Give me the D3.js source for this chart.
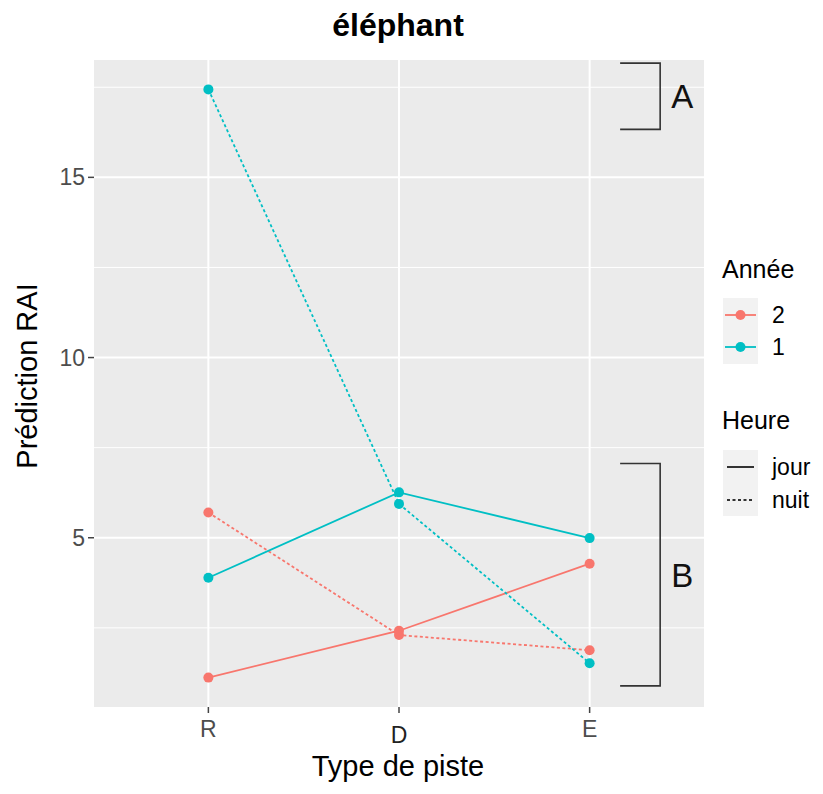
<!DOCTYPE html>
<html>
<head>
<meta charset="utf-8">
<script src="https://cdn.jsdelivr.net/npm/d3@7"></script>
<style>
  body { margin: 0; background: #fff; }
  text { font-family: "Liberation Sans", Arial, sans-serif; }
</style>
</head>
<body>
<script>
// DATA
const TYPES = ['R', 'D', 'E'];
const YEARS = ['2', '1'];
const HOURS = ['jour', 'nuit'];
const Y_TICKS = [5, 10, 15];
const Y_MINOR = [2.5, 7.5, 12.5, 17.5];
// predicted RAI per piste type (R, D, E)
const year2_jour = [1.12, 2.42, 4.28];
const year2_nuit = [5.70, 2.30, 1.88];
const year1_jour = [3.89, 6.26, 4.99];
const year1_nuit = [17.44, 5.94, 1.52];
// letter groups drawn at the right of the panel (value ranges)
const GROUP_LABELS = ['A', 'B'];
const GROUP_RANGES = [[16.33, 18.17], [0.89, 7.06]];

const SERIES = [
  {year: '2', hour: 'jour', values: year2_jour},
  {year: '2', hour: 'nuit', values: year2_nuit},
  {year: '1', hour: 'jour', values: year1_jour},
  {year: '1', hour: 'nuit', values: year1_nuit}
];

// CONSTANTS
const WIDTH = 823;
const HEIGHT = 794;
const PANEL = {left: 94, right: 704, top: 60, bottom: 707};
const COLORS = {'2': '#F8766D', '1': '#00BFC4'};
const DASH = {'jour': null, 'nuit': '3,2.5'};

const allValues = SERIES.flatMap(s => s.values);
const Y_MIN = d3.min(allValues);
const Y_MAX = d3.max(allValues);
const EXPAND = (Y_MAX - Y_MIN) * 0.05;

const X_SCALE = d3.scalePoint()
  .domain(TYPES)
  .range([PANEL.left, PANEL.right])
  .padding(0.6);
const STEP = X_SCALE.step();
const Y_SCALE = d3.scaleLinear()
  .domain([Y_MIN - EXPAND, Y_MAX + EXPAND])
  .range([PANEL.bottom, PANEL.top]);

const svg = d3.select('body')
  .append('svg')
  .attr('width', WIDTH)
  .attr('height', HEIGHT);

// PANEL
svg.append('rect')
  .attr('x', PANEL.left)
  .attr('y', PANEL.top)
  .attr('width', PANEL.right - PANEL.left)
  .attr('height', PANEL.bottom - PANEL.top)
  .attr('fill', '#EBEBEB');

svg.selectAll('.minor')
  .data(Y_MINOR)
  .enter().append('line')
  .attr('x1', PANEL.left).attr('x2', PANEL.right)
  .attr('y1', d => Y_SCALE(d)).attr('y2', d => Y_SCALE(d))
  .attr('stroke', '#fff').attr('stroke-width', 1);

svg.selectAll('.major')
  .data(Y_TICKS)
  .enter().append('line')
  .attr('x1', PANEL.left).attr('x2', PANEL.right)
  .attr('y1', d => Y_SCALE(d)).attr('y2', d => Y_SCALE(d))
  .attr('stroke', '#fff').attr('stroke-width', 2);

svg.selectAll('.vmajor')
  .data(TYPES)
  .enter().append('line')
  .attr('x1', d => X_SCALE(d)).attr('x2', d => X_SCALE(d))
  .attr('y1', PANEL.top).attr('y2', PANEL.bottom)
  .attr('stroke', '#fff').attr('stroke-width', 2);

// LINES + POINTS
const line = d3.line()
  .x((d, i) => X_SCALE(TYPES[i]))
  .y(d => Y_SCALE(d));

svg.selectAll('.series')
  .data(SERIES)
  .enter().append('path')
  .attr('d', d => line(d.values))
  .attr('fill', 'none')
  .attr('stroke', d => COLORS[d.year])
  .attr('stroke-width', 1.8)
  .attr('stroke-dasharray', d => DASH[d.hour]);

SERIES.forEach(s => {
  svg.append('g').selectAll('circle')
    .data(s.values)
    .enter().append('circle')
    .attr('cx', (d, i) => X_SCALE(TYPES[i]))
    .attr('cy', d => Y_SCALE(d))
    .attr('r', 5)
    .attr('fill', COLORS[s.year]);
});

// GROUP BRACKETS
const BR_X0 = X_SCALE('E') + STEP * 0.16;
const BR_X1 = X_SCALE('E') + STEP * 0.37;
GROUP_RANGES.forEach((r, i) => {
  const yTop = Y_SCALE(r[1]);
  const yBot = Y_SCALE(r[0]);
  svg.append('path')
    .attr('d', 'M' + BR_X0 + ',' + yTop + 'H' + BR_X1 + 'V' + yBot + 'H' + BR_X0)
    .attr('fill', 'none')
    .attr('stroke', '#333')
    .attr('stroke-width', 1.6);
  svg.append('text')
    .attr('x', BR_X1 + 11)
    .attr('y', (yTop + yBot) / 2 + 12)
    .style('font-size', '33px')
    .attr('fill', '#111')
    .text(GROUP_LABELS[i]);
});

// Y-AXIS
svg.selectAll('.ytick')
  .data(Y_TICKS)
  .enter().append('line')
  .attr('x1', PANEL.left - 6).attr('x2', PANEL.left)
  .attr('y1', d => Y_SCALE(d)).attr('y2', d => Y_SCALE(d))
  .attr('stroke', '#444').attr('stroke-width', 1.5);
svg.selectAll('.ylab')
  .data(Y_TICKS)
  .enter().append('text')
  .attr('x', PANEL.left - 9)
  .attr('y', d => Y_SCALE(d) + 8)
  .attr('text-anchor', 'end')
  .attr('fill', '#4D4D4D')
  .style('font-size', '23px')
  .text(d => d);

// X-AXIS
svg.selectAll('.xtick')
  .data(TYPES)
  .enter().append('line')
  .attr('x1', d => X_SCALE(d)).attr('x2', d => X_SCALE(d))
  .attr('y1', PANEL.bottom).attr('y2', PANEL.bottom + 6)
  .attr('stroke', '#444').attr('stroke-width', 1.5);
svg.selectAll('.xlab')
  .data(TYPES)
  .enter().append('text')
  .attr('x', d => X_SCALE(d))
  .attr('y', d => d == 'D' ? 743 : 737)
  .attr('text-anchor', 'middle')
  .attr('fill', d => d == 'D' ? '#222' : '#4D4D4D')
  .style('font-size', '23px')
  .text(d => d);

// TITLES
svg.append('text')
  .attr('x', 398)
  .attr('y', 36)
  .attr('text-anchor', 'middle')
  .style('font-size', '32px')
  .style('font-weight', 'bold')
  .text('éléphant');

svg.append('text')
  .attr('x', 398)
  .attr('y', 776)
  .attr('text-anchor', 'middle')
  .style('font-size', '29px')
  .text('Type de piste');

svg.append('text')
  .attr('transform', 'translate(37,376) rotate(-90)')
  .attr('text-anchor', 'middle')
  .style('font-size', '29px')
  .text('Prédiction RAI');

// LEGEND: Année
const legend = svg.append('g').attr('transform', 'translate(722,0)');
legend.append('text')
  .attr('x', 0).attr('y', 278)
  .style('font-size', '25px')
  .text('Année');
legend.append('rect')
  .attr('x', 1).attr('y', 298).attr('width', 35).attr('height', 66)
  .attr('fill', '#F2F2F2');
const yearKeys = legend.selectAll('.yk')
  .data(YEARS)
  .enter().append('g')
  .attr('transform', (d, i) => 'translate(0,' + (315 + i * 32) + ')');
yearKeys.append('line')
  .attr('x1', 3).attr('x2', 34)
  .attr('stroke', d => COLORS[d]).attr('stroke-width', 1.8);
yearKeys.append('circle')
  .attr('cx', 18.5).attr('r', 5)
  .attr('fill', d => COLORS[d]);
yearKeys.append('text')
  .attr('x', 50).attr('y', 8)
  .style('font-size', '23px')
  .text(d => d);

// LEGEND: Heure
legend.append('text')
  .attr('x', 0).attr('y', 429)
  .style('font-size', '25px')
  .text('Heure');
legend.append('rect')
  .attr('x', 1).attr('y', 450).attr('width', 35).attr('height', 66)
  .attr('fill', '#F2F2F2');
const hourKeys = legend.selectAll('.hk')
  .data(HOURS)
  .enter().append('g')
  .attr('transform', (d, i) => 'translate(0,' + (467 + i * 33) + ')');
hourKeys.append('line')
  .attr('x1', 5).attr('x2', 32)
  .attr('stroke', '#333').attr('stroke-width', 2)
  .attr('stroke-dasharray', d => DASH[d]);
hourKeys.append('text')
  .attr('x', 50).attr('y', 8)
  .style('font-size', '23px')
  .text(d => d);
</script>
</body>
</html>
